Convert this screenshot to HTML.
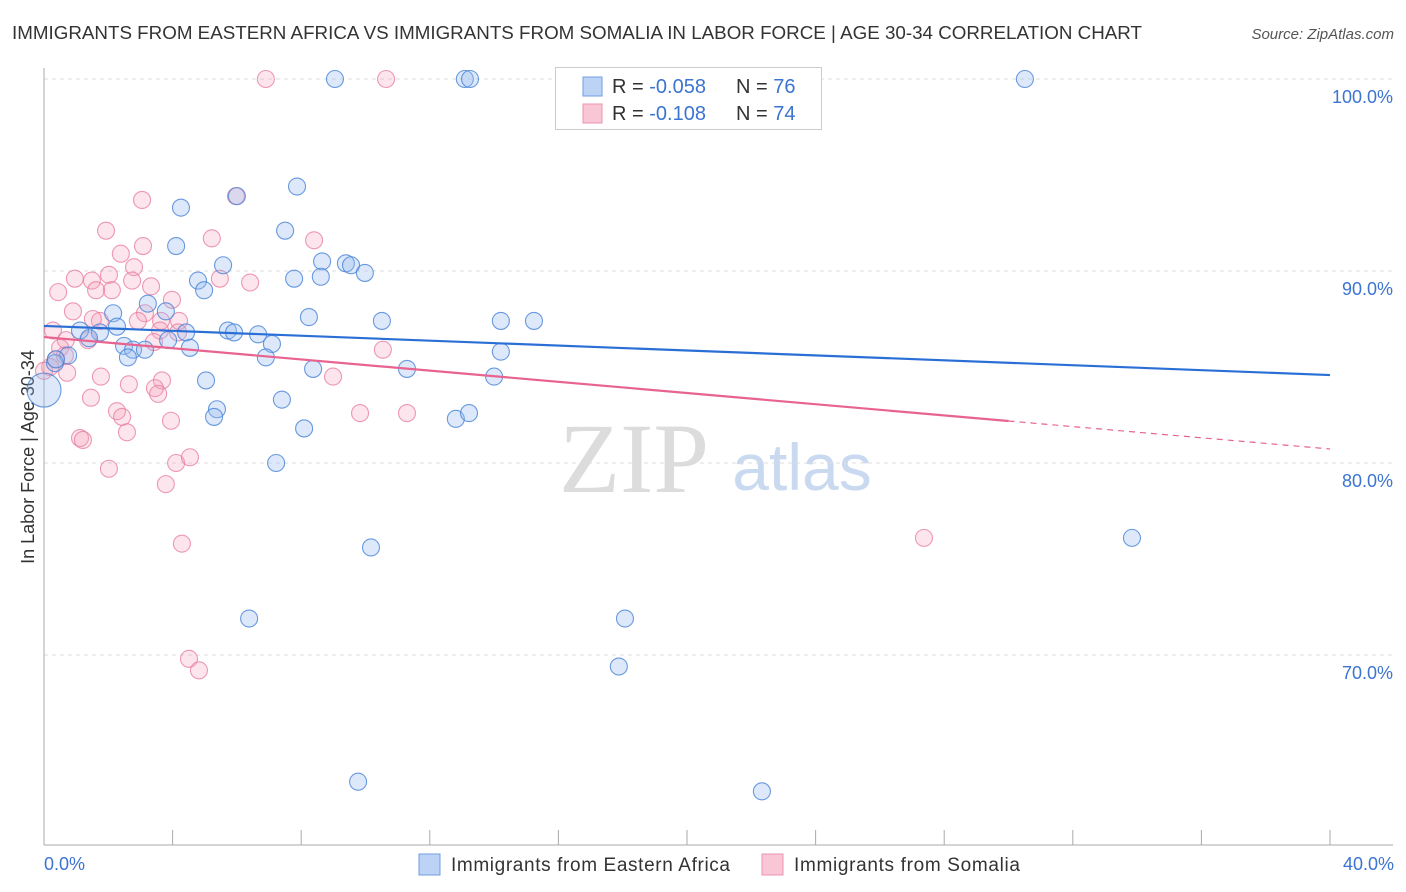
<!DOCTYPE html>
<html><head><meta charset="utf-8"><style>
body{margin:0;background:#fff;font-family:"Liberation Sans",sans-serif;}
#wrap{position:relative;width:1406px;height:892px;overflow:hidden}
</style></head><body>
<div id="wrap">
<svg id="chart" width="1406" height="892">
<text x="12" y="39" font-size="18" fill="#333" textLength="1130" lengthAdjust="spacingAndGlyphs">IMMIGRANTS FROM EASTERN AFRICA VS IMMIGRANTS FROM SOMALIA IN LABOR FORCE | AGE 30-34 CORRELATION CHART</text>
<text x="1394" y="39" font-size="15" fill="#555" font-style="italic" text-anchor="end">Source: ZipAtlas.com</text>
<text x="634" y="492" font-size="100" fill="#dcdcdc" font-family="Liberation Serif,serif" text-anchor="middle">ZIP</text>
<text x="802" y="490" font-size="66" fill="#c9d9f0" text-anchor="middle">atlas</text>
<text transform="translate(34,457) rotate(-90)" font-size="18" fill="#333" text-anchor="middle">In Labor Force | Age 30-34</text>
<g id="grid"></g><g id="axes"></g><g id="pts"></g><g id="trend"></g>
<g>
<rect x="555.5" y="67.5" width="266" height="62" fill="#fff" stroke="#ccc"/>
<rect x="583" y="77" width="19" height="19" fill="#bcd3f5" stroke="#6f9ee0"/>
<rect x="583" y="104" width="19" height="19" fill="#f9c6d6" stroke="#ec93b0"/>
<text x="612" y="93" font-size="20" fill="#333">R = <tspan fill="#3b74d1">-0.058</tspan></text>
<text x="736" y="93" font-size="20" fill="#333">N = <tspan fill="#3b74d1">76</tspan></text>
<text x="612" y="120" font-size="20" fill="#333">R =  <tspan fill="#3b74d1">-0.108</tspan></text>
<text x="736" y="120" font-size="20" fill="#333">N = <tspan fill="#3b74d1">74</tspan></text>
</g>
<g>
<rect x="419" y="854" width="21" height="21" fill="#bcd3f5" stroke="#6f9ee0"/>
<text x="451" y="871" font-size="19" fill="#333" textLength="279">Immigrants from Eastern Africa</text>
<rect x="762" y="854" width="21" height="21" fill="#f9c6d6" stroke="#ec93b0"/>
<text x="794" y="871" font-size="19" fill="#333" textLength="226">Immigrants from Somalia</text>
</g>
<text x="44" y="870" font-size="18" fill="#3b74d1">0.0%</text>
<text x="1394" y="870" font-size="18" fill="#3b74d1" text-anchor="end">40.0%</text>
</svg></div>
<script>
const blueX=[9.05,13.09,13.25,30.51,16.51,7.87,4.26,6.00,7.50,4.11,5.57,4.79,4.98,7.78,8.65,8.61,9.39,9.55,9.98,3.23,2.15,3.79,8.24,10.51,14.21,15.24,2.27,1.12,1.74,5.72,5.91,6.66,4.42,7.09,1.40,2.49,2.77,3.14,4.54,2.61,0.75,0.34,6.90,14.21,8.37,11.29,14.0,5.04,7.40,5.38,5.29,12.81,13.22,8.09,7.22,10.17,6.38,18.07,17.88,9.77,22.33,33.84,3.86,0.37];
const blueY=[100,100,100,100,100,94.4,93.3,93.9,92.1,91.3,90.3,89.5,89.0,89.6,90.5,89.7,90.4,90.3,89.9,88.3,87.8,87.9,87.6,87.4,87.4,87.4,87.1,86.9,86.8,86.9,86.8,86.7,86.8,86.2,86.5,86.1,85.9,85.9,86.0,85.5,85.6,85.2,85.5,85.8,84.9,84.9,84.5,84.3,83.3,82.8,82.4,82.3,82.6,81.8,80.0,75.6,71.9,71.9,69.4,63.4,62.9,76.1,86.4,85.4];
const pinkX=[6.90,10.64,5.97,3.05,1.93,5.22,3.08,8.40,2.39,2.80,2.02,0.96,1.49,2.74,5.47,6.41,0.44,2.11,3.33,1.62,3.98,0.90,3.14,1.74,2.92,3.64,4.20,1.52,0.28,1.37,0.68,3.61,4.17,3.42,10.54,0.50,0.37,0.65,0.19,0.72,1.77,8.99,2.64,3.67,3.45,3.55,1.46,2.27,2.43,9.83,11.29,3.95,2.58,1.12,1.21,4.11,4.54,2.02,3.79,4.29,27.37,4.51,4.82,0];
const pinkY=[100,100,93.9,93.7,92.1,91.7,91.3,91.6,90.9,90.2,89.8,89.6,89.5,89.5,89.6,89.4,88.9,89.0,89.2,89.0,88.5,87.9,87.8,87.4,87.4,87.4,87.4,87.5,86.9,86.4,86.4,86.9,86.8,86.3,85.9,86.0,85.4,85.6,85.0,84.7,84.5,84.5,84.1,84.3,83.9,83.6,83.4,82.7,82.4,82.6,82.6,82.2,81.6,81.3,81.2,80.0,80.3,79.7,78.9,75.8,76.1,69.8,69.2,84.8];
const bigBlueX=[0]; const bigBlueY=[83.8];
const blueTrend=[87.14,84.58];
const pinkTrend=[86.56,80.73];
const pinkSolidEnd=30.0;
const yTicks=[100,90,80,70];
const yTickLabels=["100.0%","90.0%","80.0%","70.0%"];
const xTicks=[0,4,8,12,16,20,24,28,32,36,40];

const NS="http://www.w3.org/2000/svg";
const sx=v=>44+v*(1286/40);
const sy=v=>79+(100-v)*19.2;
function mk(tag,attrs,parent){const e=document.createElementNS(NS,tag);for(const k in attrs)e.setAttribute(k,attrs[k]);document.getElementById(parent).appendChild(e);return e;}
yTicks.forEach((t,i)=>{
  const l=mk('line',{x1:44,x2:1393,y1:sy(t),y2:sy(t),stroke:'#ddd','stroke-dasharray':'4,4'},'grid');
  
  
  const tx=mk('text',{x:1393,y:sy(t)+24,'font-size':18,fill:'#3b74d1','text-anchor':'end'},'grid');
  tx.textContent=yTickLabels[i];
  
  
});
let a=mk('line',{x1:44,x2:44,y1:68,y2:845,stroke:'#aaa'},'axes');


a=mk('line',{x1:44,x2:1393,y1:845,y2:845,stroke:'#aaa'},'axes');


xTicks.forEach(t=>{
  const l=mk('line',{x1:sx(t),x2:sx(t),y1:830,y2:845,stroke:'#aaa'},'axes');
  
  
});
function dots(X,Y,fill,stroke,name,r){
  X.forEach((x,i)=>{
    const c=mk('circle',{cx:sx(x),cy:sy(Y[i]),r:r,fill:fill,stroke:stroke,'stroke-width':1.1},'pts');
    
    
  });
}
dots(pinkX,pinkY,'rgba(244,160,188,0.28)','rgba(232,120,156,0.75)','somalia-point',8.5);
dots(blueX,blueY,'rgba(150,188,240,0.32)','rgba(70,130,215,0.8)','eastern-africa-point',8.5);
dots(bigBlueX,bigBlueY,'rgba(150,188,240,0.32)','rgba(70,130,215,0.8)','eastern-africa-large-point',17);
let t=mk('line',{x1:sx(0),y1:sy(blueTrend[0]),x2:sx(40),y2:sy(blueTrend[1]),stroke:'#2a6fd6','stroke-width':2.2},'trend');


const pAt=x=>pinkTrend[0]+(pinkTrend[1]-pinkTrend[0])*x/40;
t=mk('line',{x1:sx(0),y1:sy(pinkTrend[0]),x2:sx(pinkSolidEnd),y2:sy(pAt(pinkSolidEnd)),stroke:'#e8638f','stroke-width':2.2},'trend');


t=mk('line',{x1:sx(pinkSolidEnd),y1:sy(pAt(pinkSolidEnd)),x2:sx(40),y2:sy(pinkTrend[1]),stroke:'#e8638f','stroke-width':1.2,'stroke-dasharray':'6,5'},'trend');


</script>
</body></html>
